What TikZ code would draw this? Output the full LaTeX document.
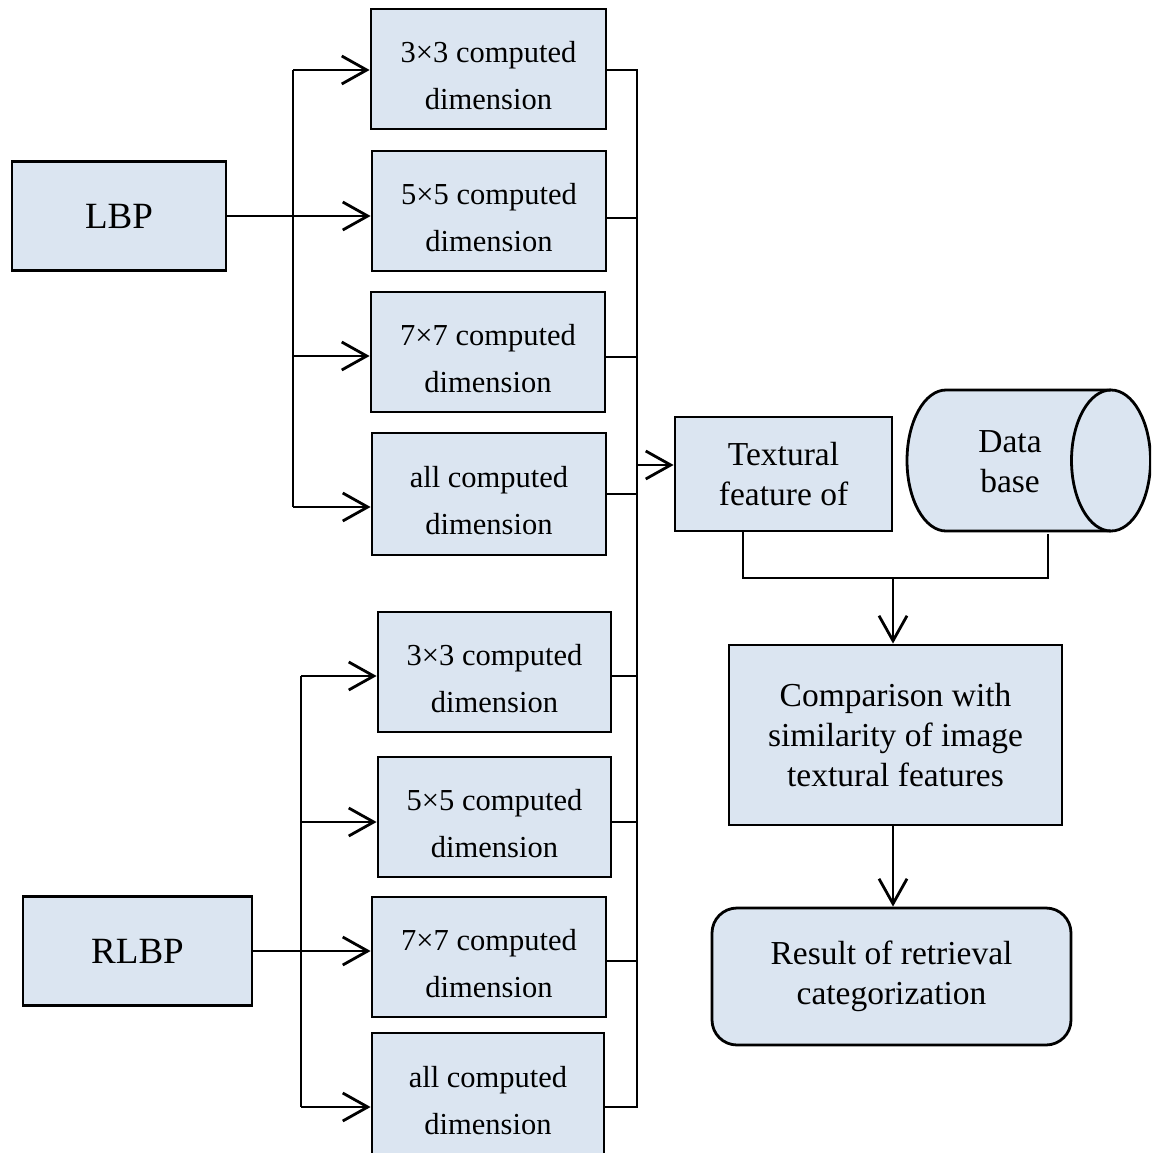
\documentclass[tikz,border=0pt]{standalone}
\usepackage{fontspec}
\setmainfont{Liberation Serif}
\usetikzlibrary{arrows.meta,calc}
\definecolor{boxfill}{HTML}{DBE5F1}
\newcommand\dimtxt[1]{\rule{0pt}{35pt}#1\\dimension}
\begin{document}
\begin{tikzpicture}[x=1pt,y=-1pt,line width=2.8pt,
  >={Straight Barb[length=25pt,width=28pt,line width=2.8pt]},
  dimbox/.style={draw,fill=boxfill,inner sep=0pt,align=center,
    font=\fontsize{30.5}{47}\selectfont},
  srcbox/.style={draw,fill=boxfill,inner sep=0pt,align=center,
    font=\fontsize{37}{44}\selectfont},
  rbox/.style={draw,fill=boxfill,inner sep=0pt,align=center,
    font=\fontsize{33.5}{40}\selectfont}]
\useasboundingbox (0,0) rectangle (1151,1153);
\clip (0,0) rectangle (1151,1153);

% source boxes
\node[srcbox,minimum width=214pt,minimum height=109pt] (LBP) at (119,216) {LBP};
\node[srcbox,minimum width=229pt,minimum height=109pt] (RLBP) at (137.5,951) {RLBP};

% top group
\node[dimbox,minimum width=235pt,minimum height=120pt] (B1) at (488.5,69) {\dimtxt{3×3 computed}};
\node[dimbox,minimum width=234pt,minimum height=120pt] (B2) at (489,211) {\dimtxt{5×5 computed}};
\node[dimbox,minimum width=234pt,minimum height=120pt] (B3) at (488,352) {\dimtxt{7×7 computed}};
\node[dimbox,minimum width=234pt,minimum height=122pt] (B4) at (489,494) {\dimtxt{all computed}};

% bottom group
\node[dimbox,minimum width=233pt,minimum height=120pt] (C1) at (494.5,672) {\dimtxt{3×3 computed}};
\node[dimbox,minimum width=233pt,minimum height=120pt] (C2) at (494.5,817) {\dimtxt{5×5 computed}};
\node[dimbox,minimum width=234pt,minimum height=120pt] (C3) at (489,957) {\dimtxt{7×7 computed}};
\node[dimbox,minimum width=232pt,minimum height=122pt] (C4) at (488,1094) {\dimtxt{all computed}};

% right side
\node[rbox,minimum width=217pt,minimum height=114pt] (T) at (783.5,474) {Textural\\feature of};
\node[rbox,minimum width=333pt,minimum height=180pt] (CMP) at (895.5,735) {Comparison with\\similarity of image\\textural features};
\node[rbox,minimum width=359pt,minimum height=137pt,rounded corners=25pt] (RES) at (891.5,976.5) {Result of retrieval\\categorization};

% database cylinder
\draw[fill=boxfill] (1111,390) -- (946,390)
  arc[start angle=-90,end angle=-270,x radius=39,y radius=70.5]
  -- (1111,531)
  arc[start angle=90,end angle=-90,x radius=39.5,y radius=70.5] -- cycle;
\draw (1111,531) arc[start angle=90,end angle=270,x radius=39.5,y radius=70.5];
\node[inner sep=0pt,minimum width=244pt,minimum height=141pt,align=center,
  font=\fontsize{33.5}{40}\selectfont,text width=130pt] (DB) at (1010,462) {Data\\base};

% left bus (LBP)
\coordinate (l1) at (293,70);
\coordinate (l3) at (293,356);
\coordinate (l4) at (293,507);
\draw (l1) -- (l4);
\draw[->] (l1) -- (l1 -| B1.west);
\draw[->] (LBP.east) -- (LBP.east -| B2.west);
\draw[->] (l3) -- (l3 -| B3.west);
\draw[->] (l4) -- (l4 -| B4.west);

% left bus (RLBP)
\coordinate (m1) at (301,676);
\coordinate (m2) at (301,822);
\coordinate (m4) at (301,1107);
\draw (m1) -- (m4);
\draw[->] (m1) -- (m1 -| C1.west);
\draw[->] (m2) -- (m2 -| C2.west);
\draw[->] (RLBP.east) -- (RLBP.east -| C3.west);
\draw[->] (m4) -- (m4 -| C4.west);

% right bus
\coordinate (r1) at (637,70);
\coordinate (r2) at (637,218);
\coordinate (r3) at (637,357);
\coordinate (r4) at (637,494);
\coordinate (r5) at (637,676);
\coordinate (r6) at (637,822);
\coordinate (r7) at (637,961);
\coordinate (r8) at (637,1107);
\coordinate (rt) at (637,465);
\draw (r1 -| B1.east) -- (r1) -- (r8) -- (r8 -| C4.east);
\draw (r2 -| B2.east) -- (r2);
\draw (r3 -| B3.east) -- (r3);
\draw (r4 -| B4.east) -- (r4);
\draw (r5 -| C1.east) -- (r5);
\draw (r6 -| C2.east) -- (r6);
\draw (r7 -| C3.east) -- (r7);
\draw[->] (rt) -- (rt -| T.west);

% merge to comparison
\coordinate (j) at (893,578);
\draw ($(T.south)+(-40.5,0)$) |- (j) -| ($(DB.south)+(38,0)$);
\draw[->] (j) -- (j |- CMP.north);
\draw[->] (j |- CMP.south) -- (j |- RES.north);
\end{tikzpicture}
\end{document}
